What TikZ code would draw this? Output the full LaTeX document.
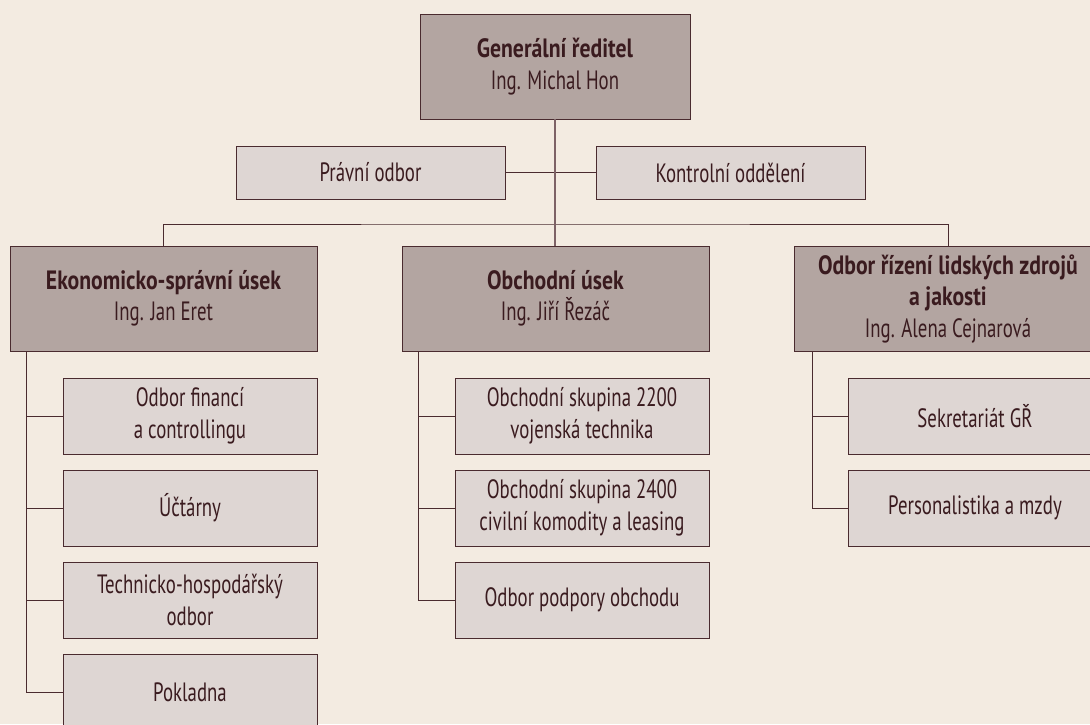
\documentclass[tikz,border=0pt]{standalone}
\usepackage{fontspec}
\setmainfont{PT Sans}[FakeStretch=0.71, BoldFeatures={FakeStretch=0.82}]
\usetikzlibrary{calc}
\definecolor{bgc}{HTML}{F3EBE1}
\definecolor{mainfill}{HTML}{B3A5A1}
\definecolor{subfill}{HTML}{DED6D3}
\definecolor{edge}{HTML}{4A2B2F}
\definecolor{ink}{HTML}{3A1B1F}
\definecolor{trunk}{HTML}{7D6266}
\tikzset{
  boxbase/.style={rectangle, draw=edge, line width=0.9pt, text=ink, align=center, inner sep=0pt,
    font=\fontsize{26.5}{31.5}\selectfont},
  boss/.style={boxbase, fill=mainfill, minimum width=307pt, minimum height=105pt},
  staff/.style={boxbase, fill=subfill, minimum width=269pt, minimum height=53pt},
  unit/.style={boxbase, fill=subfill, minimum width=254pt, minimum height=76pt},
  link/.style={draw=edge, line width=0.9pt},
  trunkline/.style={draw=trunk, line width=1.4pt}
}
\begin{document}
\begin{tikzpicture}[x=1pt,y=-1pt]
\fill[bgc] (0,0) rectangle (1090,724);
\useasboundingbox (0,0) rectangle (1090,724);
% top
\node[boss, minimum width=270pt] (gr) at (555,66.5) {\textbf{Generální ředitel}\\Ing. Michal Hon};
\node[staff] (pravni) at (370.5,172.5) {Právní odbor};
\node[staff] (kontrol) at (730.5,172.5) {Kontrolní oddělení};
% divisions
\node[boss] (eko) at (163.5,298.5) {\textbf{Ekonomicko-správní úsek}\\Ing. Jan Eret};
\node[boss] (obch) at (555.5,298.5) {\textbf{Obchodní úsek}\\Ing. Jiří Řezáč};
\node[boss, minimum width=308pt] (lid) at (948,298.5) {\textbf{Odbor řízení lidských zdrojů}\\\textbf{a jakosti}\\Ing. Alena Cejnarová};
% left units
\node[unit] (fin) at (190,416) {Odbor financí\\a controllingu};
\node[unit] (uct) at (190,508) {Účtárny};
\node[unit] (tech) at (190,600) {Technicko-hospodářský\\odbor};
\node[unit] (pokl) at (190,692) {Pokladna};
% middle units
\node[unit] (os22) at (582,416) {Obchodní skupina 2200\\vojenská technika};
\node[unit] (os24) at (582,508) {Obchodní skupina 2400\\civilní komodity a leasing};
\node[unit] (podp) at (582,600) {Odbor podpory obchodu};
% right units
\node[unit] (sekr) at (975,416) {Sekretariát GŘ};
\node[unit] (pers) at (975,508) {Personalistika a mzdy};
% connectors
\coordinate (bus) at (555,224);
\draw[link] (pravni.east) -- (kontrol.west);
\draw[link] (eko.north) |- (bus) -| (lid.north);
\draw[trunkline] (gr.south) -- (gr.south |- obch.north);
\coordinate (spL) at ([xshift=17pt]eko.south west);
\coordinate (spM) at ([xshift=17pt]obch.south west);
\coordinate (spR) at ([xshift=19pt]lid.south west);
\foreach \u in {fin,uct,tech,pokl} \draw[link] (spL) |- (\u.west);
\foreach \u in {os22,os24,podp} \draw[link] (spM) |- (\u.west);
\foreach \u in {sekr,pers} \draw[link] (spR) |- (\u.west);
\end{tikzpicture}
\end{document}
